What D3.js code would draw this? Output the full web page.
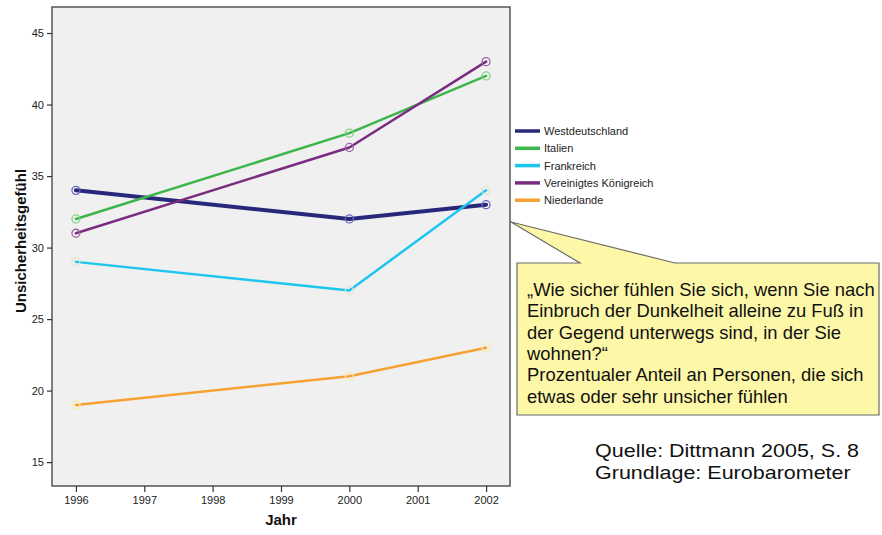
<!DOCTYPE html>
<html><head><meta charset="utf-8">
<script src="https://cdn.jsdelivr.net/npm/d3@7"></script>
<style>body{margin:0;background:#fff;font-family:Arial,"Liberation Sans",sans-serif}</style>
</head><body><svg id="c" width="882" height="535"></svg>
<script>
const years = [1996, 2000, 2002];
const yTicks = [15, 20, 25, 30, 35, 40, 45];
const xTicks = [1996, 1997, 1998, 1999, 2000, 2001, 2002];
const seriesNames = ["Westdeutschland", "Italien", "Frankreich", "Vereinigtes Königreich", "Niederlande"];
const westdeutschland = [34, 32, 33];
const italien = [32, 38, 42];
const frankreich = [29, 27, 34];
const vereinigtesKoenigreich = [31, 37, 43];
const niederlande = [19, 21, 23];
const colors = ["#28287a", "#3cb64a", "#1ec6ef", "#7a2c80", "#f6a233"];
const markerColors = ["#6a6ac0", "#80d487", "#dde6cf", "#a062a8", "#fbeaa8"];
const widths = [4, 2.5, 2.5, 2.5, 2.5];
const calloutLines = ["„Wie sicher fühlen Sie sich, wenn Sie nach", "Einbruch der Dunkelheit alleine zu Fuß in", "der Gegend unterwegs sind, in der Sie", "wohnen?“", "Prozentualer Anteil an Personen, die sich", "etwas oder sehr unsicher fühlen"];
const sourceLines = ["Quelle: Dittmann 2005, S. 8", "Grundlage: Eurobarometer"];

const allSeries = [westdeutschland, italien, frankreich, vereinigtesKoenigreich, niederlande];
const svg = d3.select("#c");
const L = 52, R = 510, T = 7, B = 486;
const x = d3.scaleLinear().domain([1995.65, 2002.35]).range([L, R]);
const y = d3.scaleLinear().domain([13.33, 46.82]).range([B, T]);

svg.append("rect").attr("x", L).attr("y", T).attr("width", R - L).attr("height", B - T)
  .attr("fill", "#f0f0f0").attr("stroke", "#555").attr("stroke-width", 1.5);

const ya = svg.append("g").attr("transform", `translate(${L},0)`)
  .call(d3.axisLeft(y).tickValues(yTicks).tickSize(5).tickPadding(3));
const xa = svg.append("g").attr("transform", `translate(0,${B})`)
  .call(d3.axisBottom(x).tickValues(xTicks).tickFormat(d3.format("d")).tickSize(6).tickPadding(4));
[ya, xa].forEach(a => {
  a.select(".domain").remove();
  a.selectAll("line").attr("stroke", "#333").attr("stroke-width", 1.2);
  a.selectAll("text").attr("font-size", 11).attr("fill", "#222").attr("font-family", "Arial, Liberation Sans, sans-serif");
});

svg.append("text").attr("transform", "translate(26,241) rotate(-90)").attr("text-anchor", "middle")
  .attr("font-size", 15).attr("font-weight", "bold").attr("fill", "#111").text("Unsicherheitsgefühl");
svg.append("text").attr("x", 281).attr("y", 525).attr("text-anchor", "middle")
  .attr("font-size", 15).attr("font-weight", "bold").attr("fill", "#111").text("Jahr");

const line = d3.line().x((d, i) => x(years[i])).y(d => y(d));
allSeries.forEach((s, k) => {
  svg.append("path").attr("d", line(s)).attr("fill", "none").attr("stroke", colors[k])
    .attr("stroke-width", widths[k]).attr("stroke-linejoin", "round").attr("stroke-linecap", "round");
});
allSeries.forEach((s, k) => {
  svg.selectAll(null).data(s).enter().append("circle")
    .attr("cx", (d, i) => x(years[i])).attr("cy", d => y(d)).attr("r", 4)
    .attr("fill", "none").attr("stroke", markerColors[k]).attr("stroke-width", 1.3);
});

// legend
const lg = svg.append("g");
seriesNames.forEach((n, k) => {
  const yy = 131 + k * 17.3;
  lg.append("line").attr("x1", 515).attr("x2", 540).attr("y1", yy).attr("y2", yy)
    .attr("stroke", colors[k]).attr("stroke-width", 3.5);
  lg.append("text").attr("x", 544).attr("y", yy + 4).attr("font-size", 11).attr("fill", "#222").text(n);
});

// callout
const bx0 = 517, bx1 = 879, by0 = 263, by1 = 415;
const path = `M${bx0},${by0} L580,${by0} L511,222 L675,${by0} L${bx1},${by0} L${bx1},${by1} L${bx0},${by1} Z`;
svg.append("path").attr("d", path).attr("fill", "#fdf7a8").attr("stroke", "#6b6b6b").attr("stroke-width", 1.2);
calloutLines.forEach((t, i) => {
  svg.append("text").attr("transform", `translate(527,${296 + i * 21.3}) scale(1.04,1)`)
    .attr("font-size", 17.7).attr("fill", "#111").text(t);
});
sourceLines.forEach((t, i) => {
  svg.append("text").attr("transform", `translate(595,${457 + i * 22}) scale(1.12,1)`)
    .attr("font-size", 19.2).attr("fill", "#111").text(t);
});
</script></body></html>
